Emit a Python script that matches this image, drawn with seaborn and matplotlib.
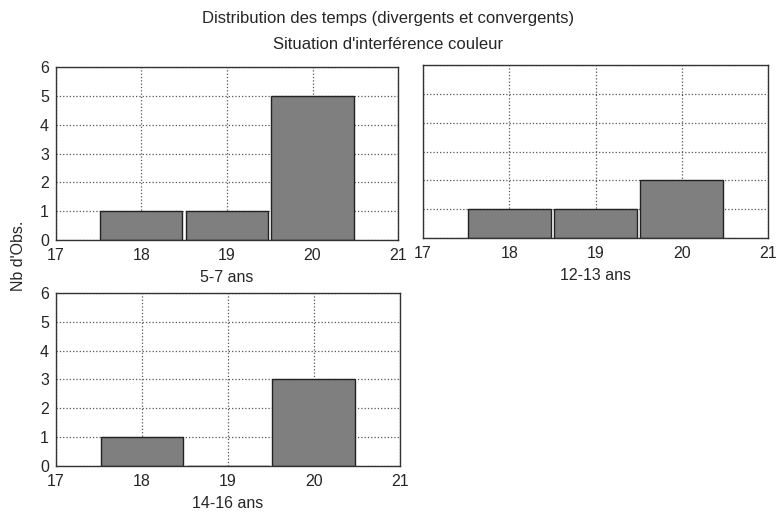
import numpy as np
import pandas as pd
import matplotlib
matplotlib.use("Agg")
import matplotlib.pyplot as plt
import seaborn as sns

temps = [18, 19, 20]
obs_5_7 = [1, 1, 5]
obs_12_13 = [1, 1, 2]
obs_14_16 = [1, 0, 3]
groupes = ["5-7 ans", "12-13 ans", "14-16 ans"]

sns.set_style("white")
plt.rcParams['font.family'] = ['Liberation Sans', 'DejaVu Sans']

fig = plt.figure(figsize=(7.76, 5.12), dpi=100)
ax1 = fig.add_axes([0.072, 0.531, 0.441, 0.338])
ax2 = fig.add_axes([0.545, 0.535, 0.445, 0.338])
ax3 = fig.add_axes([0.072, 0.090, 0.443, 0.338])

for ax, vals, nom in zip([ax1, ax2, ax3], [obs_5_7, obs_12_13, obs_14_16], groupes):
    df = pd.DataFrame({'temps': temps, 'n': vals})
    sns.barplot(data=df, x='temps', y='n', native_scale=True, width=0.96,
                color='#7f7f7f', saturation=1, edgecolor='#222222', linewidth=1, ax=ax)
    ax.set_xlim(17, 21)
    ax.set_ylim(0, 6)
    ax.set_xticks([17, 18, 19, 20, 21])
    ax.set_yticks(range(7))
    ax.grid(True, linestyle=':', color='#555555', linewidth=0.9)
    ax.set_axisbelow(True)
    ax.set_xlabel(nom, fontsize=11.5, labelpad=5)
    ax.set_ylabel('')
    ax.tick_params(labelsize=11.5, length=0)
    ax.tick_params(axis='x', pad=6)
    ax.tick_params(axis='y', pad=5)
    for s in ax.spines.values():
        s.set_color('#333333')
        s.set_linewidth(1)

ax2.set_yticklabels([])

fig.text(0.5, 0.963, "Distribution des temps (divergents et convergents)", ha='center', va='center', fontsize=12)
fig.text(0.5, 0.914, "Situation d'interférence couleur", ha='center', va='center', fontsize=12)
fig.text(0.024, 0.50, "Nb d'Obs.", rotation=90, ha='center', va='center', fontsize=11.5)

fig.savefig("out.png", dpi=100)
